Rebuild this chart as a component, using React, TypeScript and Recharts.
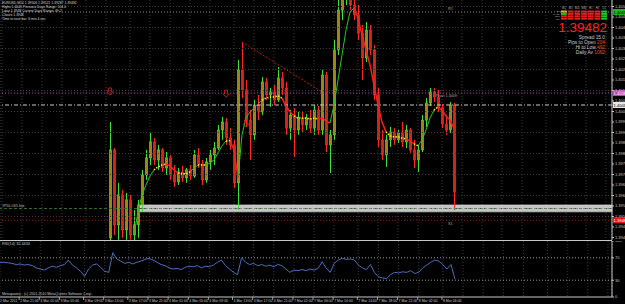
import React from 'react';
import {
  ComposedChart, Bar, Line, XAxis, YAxis, CartesianGrid,
  ReferenceLine, ReferenceArea, ReferenceDot,
} from 'recharts';

// ---------------- data ----------------
const SLOT_COUNT = 153;
const CANDLE_START = 27;
const MA_START = 33;

const opens = [
  1.39398, 1.39817, 1.39460, 1.39603, 1.39436, 1.39579, 1.39412, 1.39460, 1.39555, 1.39698,
  1.39779, 1.39855, 1.39769, 1.39817, 1.39731, 1.39779, 1.39698, 1.39665, 1.39712, 1.39684,
  1.39722, 1.39693, 1.39793, 1.39750, 1.39674, 1.39760, 1.39793, 1.39826, 1.39912, 1.39950,
  1.39874, 1.39841, 1.39660, 1.40198, 1.40103, 1.39959, 1.39889, 1.40031, 1.39998, 1.40141,
  1.40079, 1.40093, 1.40055, 1.40160, 1.40112, 1.39921, 1.39983, 1.39912, 1.39969, 1.39936,
  1.39969, 1.39921, 1.40007, 1.39912, 1.40174, 1.39841, 1.39889, 1.40293, 1.40483, 1.40555,
  1.40602, 1.40507, 1.40460, 1.40374, 1.40255, 1.40388, 1.40293, 1.40079, 1.39865, 1.39793,
  1.39865, 1.39903, 1.39865, 1.39898, 1.39855, 1.39912, 1.39817, 1.39769, 1.39817, 1.39959,
  1.40041, 1.40093, 1.40069, 1.40017, 1.39941, 1.39912, 1.40031,
];
const highs = [
  1.39950, 1.39826, 1.39660, 1.39627, 1.39612, 1.39603, 1.39531, 1.39579, 1.39722, 1.39817,
  1.39898, 1.39874, 1.39841, 1.39826, 1.39807, 1.39793, 1.39745, 1.39731, 1.39741, 1.39731,
  1.39745, 1.39817, 1.39826, 1.39769, 1.39779, 1.39817, 1.39855, 1.39936, 1.39974, 1.39969,
  1.39921, 1.39865, 1.40245, 1.40331, 1.40150, 1.40007, 1.40055, 1.40079, 1.40164, 1.40160,
  1.40112, 1.40126, 1.40212, 1.40188, 1.40141, 1.40007, 1.40017, 1.39998, 1.39998, 1.39988,
  1.40007, 1.40031, 1.40026, 1.40198, 1.40188, 1.39912, 1.40341, 1.40602, 1.40626, 1.40674,
  1.40650, 1.40588, 1.40507, 1.40412, 1.40426, 1.40412, 1.40317, 1.40112, 1.39912, 1.39889,
  1.39926, 1.39921, 1.39912, 1.39950, 1.39936, 1.39921, 1.39865, 1.39841, 1.39983, 1.40064,
  1.40112, 1.40112, 1.40103, 1.40036, 1.39983, 1.40045, 1.40041,
];
const lows = [
  1.39379, 1.39412, 1.39389, 1.39398, 1.39389, 1.39389, 1.39379, 1.39398, 1.39522, 1.39674,
  1.39745, 1.39745, 1.39722, 1.39712, 1.39698, 1.39674, 1.39641, 1.39650, 1.39665, 1.39660,
  1.39674, 1.39684, 1.39731, 1.39650, 1.39660, 1.39722, 1.39745, 1.39817, 1.39865, 1.39841,
  1.39817, 1.39636, 1.39531, 1.40064, 1.39926, 1.39769, 1.39865, 1.39959, 1.39983, 1.40055,
  1.40022, 1.40031, 1.40045, 1.40079, 1.39889, 1.39865, 1.39784, 1.39889, 1.39903, 1.39912,
  1.39898, 1.39889, 1.39889, 1.39889, 1.39807, 1.39707, 1.39865, 1.40269, 1.40436, 1.40507,
  1.40483, 1.40436, 1.40341, 1.40150, 1.40236, 1.40269, 1.40055, 1.39831, 1.39769, 1.39736,
  1.39831, 1.39841, 1.39850, 1.39831, 1.39826, 1.39803, 1.39731, 1.39712, 1.39807, 1.39926,
  1.40026, 1.40045, 1.39998, 1.39921, 1.39889, 1.39898, 1.39531,
];
const closes = [
  1.39817, 1.39460, 1.39603, 1.39436, 1.39579, 1.39412, 1.39460, 1.39555, 1.39698, 1.39779,
  1.39855, 1.39769, 1.39817, 1.39731, 1.39779, 1.39698, 1.39665, 1.39712, 1.39684, 1.39722,
  1.39693, 1.39793, 1.39750, 1.39674, 1.39760, 1.39793, 1.39826, 1.39912, 1.39950, 1.39874,
  1.39841, 1.39660, 1.40198, 1.40103, 1.39959, 1.39889, 1.40031, 1.39998, 1.40141, 1.40079,
  1.40093, 1.40055, 1.40160, 1.40112, 1.39921, 1.39983, 1.39912, 1.39969, 1.39936, 1.39969,
  1.39921, 1.40007, 1.39912, 1.40174, 1.39841, 1.39889, 1.40293, 1.40483, 1.40555, 1.40602,
  1.40507, 1.40460, 1.40374, 1.40255, 1.40388, 1.40293, 1.40079, 1.39865, 1.39793, 1.39865,
  1.39903, 1.39865, 1.39898, 1.39855, 1.39912, 1.39817, 1.39769, 1.39817, 1.39959, 1.40041,
  1.40093, 1.40069, 1.40017, 1.39941, 1.39912, 1.40031, 1.39617,
];

const maValues = [
  1.39412, 1.39522, 1.39603, 1.39650, 1.39693, 1.39722, 1.39736, 1.39745, 1.39750, 1.39741,
  1.39722, 1.39707, 1.39703, 1.39703, 1.39712, 1.39731, 1.39745, 1.39745, 1.39745, 1.39755,
  1.39769, 1.39803, 1.39836, 1.39860, 1.39860, 1.39817, 1.39684, 1.39889, 1.39969, 1.39998,
  1.40017, 1.40036, 1.40055, 1.40064, 1.40069, 1.40069, 1.40074, 1.40064, 1.40026, 1.39998,
  1.39979, 1.39969, 1.39969, 1.39969, 1.39964, 1.39969, 1.39964, 1.39969, 1.39955, 1.39945,
  1.40031, 1.40150, 1.40269, 1.40388, 1.40474, 1.40493, 1.40445, 1.40364, 1.40293, 1.40222,
  1.40126, 1.40031, 1.39950, 1.39903, 1.39884, 1.39879, 1.39879, 1.39874, 1.39869, 1.39860,
  1.39846, 1.39836, 1.39865, 1.39912, 1.39969, 1.40007, 1.40022, 1.40007, 1.39979, 1.39959,
  1.39921,
];
const maColors =
  'gggggg' + 'yyy' + 'rrr' + 'yyy' + 'gg' + 'yy' + 'ggggg' + 'y' + 'rr' + 'gggggg' +
  'yyyyy' + 'rrr' + 'yyyyyy' + 'rrr' + 'gggggg' + 'rrrrrrrr' + 'yyyyy' + 'rr' + 'y' +
  'gggg' + 'y' + 'rrrr';

const rsiValues = [
  62, 62, 61, 60, 58, 59, 57, 58, 56, 52,
  50, 48, 52, 55, 53, 56, 58, 66, 57, 52,
  46, 37, 50, 57, 59, 53, 46, 44, 79, 68,
  64, 60, 62, 59, 62, 64, 67, 69, 66, 62,
  58, 56, 52, 50, 51, 49, 53, 55, 54, 56,
  52, 55, 54, 57, 62, 66, 56, 50, 44, 40,
  70, 62, 58, 60, 56, 58, 55, 57, 54, 58,
  56, 50, 44, 48, 47, 49, 47, 50, 48, 51,
  63, 52, 44, 60, 66, 69, 67, 68, 66, 57,
  52, 49, 58, 44, 36, 34, 33, 40, 44, 43,
  45, 44, 47, 42, 44, 52, 57, 62, 66, 64,
  58, 50, 58, 32,
];

const timeLabels = [
  '2 Mar 2011', '2 Mar 21:00', '3 Mar 01:00', '3 Mar 05:00', '3 Mar 09:00', '3 Mar 13:00',
  '3 Mar 17:00', '3 Mar 21:00', '4 Mar 01:00', '4 Mar 05:00', '4 Mar 09:00', '4 Mar 13:00',
  '4 Mar 17:00', '4 Mar 21:00', '7 Mar 02:00', '7 Mar 06:00', '7 Mar 10:00', '7 Mar 14:00',
  '7 Mar 18:00', '7 Mar 22:00', '8 Mar 02:00', '8 Mar 06:00',
];
const timeLabelSlots = [0, 5, 10, 15, 21, 26, 32, 37, 42, 47, 52, 58, 63, 68, 73, 78, 83, 89, 94, 99, 104, 110];
const futureGridSlots = [115, 120, 125, 130, 136, 141, 146, 151];

const priceTicks = [
  1.3940, 1.3945, 1.3950, 1.3955, 1.3960, 1.3965, 1.3970, 1.3975, 1.3980, 1.3985, 1.3990, 1.3995,
  1.4000, 1.4005, 1.4010, 1.4015, 1.4020, 1.4025, 1.4030, 1.4035, 1.4040, 1.4045, 1.4050,
];
const gridPrices = [1.3950, 1.3960, 1.3970, 1.3980, 1.3990, 1.4000, 1.4010, 1.4020, 1.4030, 1.4040, 1.4050];
const PRICE_MIN = 1.39388;
const PRICE_MAX = 1.40531;

const levelR1 = 1.40474;
const levelPivot = 1.40088;
const levelDash = 1.40031;
const levelBid = 1.39482;
const bandLow = 1.39522;
const bandHigh = 1.39555;
const bandMid = 1.39538;
const bandStartSlot = 35;
const trendLine = [{ slot: 60, price: 1.40331 }, { slot: 80, price: 1.40093 }];
const arrowMarks = [
  { slot: 27, price: 1.40093 },
  { slot: 56, price: 1.40083 },
  { slot: 61, price: 1.39941 },
];

const infoLines = [
  'EURUSD,M10  1.39506 1.39521 1.39287 1.39482',
  'Highs 1.4045    Previous Days Range: 104.0',
  'Lows 1.3938    Current Days Range: 49.2',
  'Closes 1.3948',
  'Time to next bar: 6 min 4 sec',
];
const signalHeaders = ['M1', 'M5', 'M15', 'M30', 'H1', 'H4', 'D1'];
const signalRowNames = ['TR', 'MACD', 'STR', 'CCI'];
const signalRows = [
  'yrrrrrg',
  'grrrrrg',
  'rrrrrrg',
  'rrrrrrg',
];
const lastPrice = '1.39482';
const statLines = [
  { label: 'Spread ', value: '15.0', valueGray: true },
  { label: 'Pips to Open ', value: '204', valueGray: false },
  { label: 'Hi to Low ', value: '492', valueGray: false },
  { label: 'Daily Av ', value: '1062', valueGray: false },
];
const rsiCaption = 'RSI(14) 32.4434';
const copyright = 'Metaquotes - (c) 2001-2010 MetaQuotes Software Corp.';

// ---------------- table ----------------
const table = Array.from({ length: SLOT_COUNT }, (_, i) => {
  const k = i - CANDLE_START;
  const hasC = k >= 0 && k < closes.length;
  const m = i - MA_START;
  const hasM = m >= 0 && m < maValues.length;
  const col = hasM ? maColors[m] : '';
  const nextCol = m + 1 >= 0 && m + 1 < maValues.length ? maColors[m + 1] : '';
  const pick = (c: string) => (hasM && (col === c || nextCol === c) ? maValues[m] : null);
  return {
    i,
    o: hasC ? opens[k] : null,
    h: hasC ? highs[k] : null,
    l: hasC ? lows[k] : null,
    c: hasC ? closes[k] : null,
    range: hasC ? [lows[k], highs[k]] : null,
    maG: pick('g'),
    maY: pick('y'),
    maR: pick('r'),
    rsi: i < rsiValues.length ? rsiValues[i] : null,
  };
});

const gridSlots = [...timeLabelSlots, ...futureGridSlots];
const FONT = '"Liberation Sans", "DejaVu Sans", Arial, sans-serif';

// ---------------- shapes ----------------
function Candle(props: any) {
  const { x, y, width, height, payload } = props;
  if (!payload || payload.o == null) return null;
  const { o, h, l, c } = payload;
  const top = Math.min(y, y + height);
  const bot = Math.max(y, y + height);
  const toY = (v: number) => top + ((h - v) / (h - l)) * (bot - top);
  const bull = c >= o;
  const wick = bull ? '#3ae23a' : '#ff2626';
  const body = bull ? '#9c8612' : '#cc2a16';
  const yo = toY(o);
  const yc = toY(c);
  const bTop = Math.min(yo, yc);
  const bH = Math.max(1, Math.abs(yo - yc));
  const cx = x + width / 2;
  return (
    <g>
      <line x1={cx} x2={cx} y1={top} y2={bot} stroke={wick} strokeWidth={1} />
      <rect x={cx - 1.2} y={bTop} width={2.4} height={bH} fill={body} stroke={wick} strokeWidth={0.6} />
    </g>
  );
}

function ArrowDown(props: any) {
  const { cx, cy } = props;
  if (cx == null || cy == null) return null;
  const d = `M${cx - 1.5},${cy - 4} L${cx + 1.5},${cy - 4} L${cx + 1.5},${cy} L${cx + 3},${cy} L${cx},${cy + 3} L${cx - 3},${cy} L${cx - 1.5},${cy} Z`;
  return <path d={d} fill="none" stroke="#d42020" strokeWidth={0.8} />;
}

const textMark = (text: string, dy: number) => (props: any) => {
  const { cx, cy } = props;
  if (cx == null || cy == null) return null;
  return (
    <text x={cx - 2} y={cy + dy} fontSize={3.8} fill="#a8a8a8" fontFamily={FONT}>{text}</text>
  );
};

const axisTag = (bg: string, fg: string, text: string) => (p: any) => {
  const vb = p.viewBox || {};
  const x = (vb.x ?? 0) + (vb.width ?? 0);
  const y = vb.y ?? 0;
  return (
    <g>
      <rect x={x + 1} y={y - 3} width={14} height={6} fill={bg} />
      <text x={x + 1.6} y={y + 1.6} fontSize={4} fill={fg} fontFamily={FONT}>{text}</text>
    </g>
  );
};

function TimeTick(props: any) {
  const { x, y, payload } = props;
  const idx = timeLabelSlots.indexOf(payload?.value);
  if (idx < 0) return <g />;
  return (
    <g>
      <line x1={x - 1} x2={x - 1} y1={y} y2={y + 3} stroke="#c8c8c8" strokeWidth={0.8} />
      <text x={x} y={y + 5.2} fontSize={3.5} fill="#c8c8c8" fontFamily={FONT}>{timeLabels[idx]}</text>
    </g>
  );
}

// ---------------- component ----------------
export default function App() {
  const signalColor = (ch: string) => (ch === 'g' ? '#1fc81f' : ch === 'y' ? '#e6b81c' : '#e01e1e');
  return (
    <div style={{ position: 'absolute', left: 0, top: 0, width: 625, height: 304, background: '#000', overflow: 'hidden' }}>
      <ComposedChart
        width={625}
        height={240}
        data={table}
        margin={{ top: 0, right: 0, bottom: 0, left: 0 }}
        barCategoryGap={0}
        barGap={0}
      >
        <CartesianGrid horizontal={false} stroke="#3c3c3c" strokeDasharray="1 2" />
        <XAxis dataKey="i" type="category" hide ticks={gridSlots} interval={0} />
        <YAxis
          orientation="right"
          width={13}
          domain={[PRICE_MIN, PRICE_MAX]}
          allowDataOverflow
          ticks={priceTicks}
          interval={0}
          tickFormatter={(v: number) => v.toFixed(5)}
          tick={{ fontSize: 4, fill: '#c8c8c8', fontFamily: FONT }}
          tickSize={2}
          tickMargin={1}
          tickLine={{ stroke: '#c8c8c8' }}
          axisLine={{ stroke: '#c8c8c8' }}
        />
        {gridPrices.map((p) => (
          <ReferenceLine key={p} y={p} stroke="#3c3c3c" strokeDasharray="1 2" />
        ))}
        <ReferenceLine y={levelR1} stroke="#8a8a8a" strokeDasharray="1 2" label={axisTag('#1fb81f', '#000', levelR1.toFixed(5))} />
        <ReferenceLine y={levelPivot} stroke="#b43cb4" strokeDasharray="1 2" label={axisTag('#c040c0', '#fff', levelPivot.toFixed(5))} />
        <ReferenceLine y={levelDash} stroke="#c8c8c8" strokeDasharray="4 2 1 2" label={axisTag('#e8e8e8', '#000', levelDash.toFixed(5))} />
        <ReferenceLine
          y={bandMid}
          stroke="#2f6a2f"
          strokeDasharray="3 2"
          label={{ value: '#PDL#4/5 line', position: 'insideLeft', offset: 2, dy: -3, fontSize: 3.6, fill: '#c0c0c0', fontFamily: FONT }}
        />
        <ReferenceLine y={levelBid} stroke="#a01414" strokeDasharray="1 2" label={axisTag('#e01414', '#fff', levelBid.toFixed(5))} />
        <ReferenceArea x1={bandStartSlot} x2={SLOT_COUNT - 1} y1={bandLow} y2={bandHigh} fill="#c4c4c4" fillOpacity={1} stroke="#dcdcdc" strokeWidth={0.6} />
        <ReferenceLine segment={[{ x: bandStartSlot, y: bandMid }, { x: SLOT_COUNT - 1, y: bandMid }]} stroke="#8a8a8a" strokeDasharray="2 1.5" />
        <Bar dataKey="range" barSize={3} shape={Candle} isAnimationActive={false} />
        <Line dataKey="maG" stroke="#22c822" strokeWidth={1} dot={false} isAnimationActive={false} />
        <Line dataKey="maY" stroke="#ffee22" strokeWidth={1.6} strokeDasharray="1.4 1.4" dot={false} isAnimationActive={false} />
        <Line dataKey="maR" stroke="#ff1c1c" strokeWidth={1.5} dot={false} isAnimationActive={false} />
        <ReferenceLine
          segment={trendLine.map((t) => ({ x: t.slot, y: t.price }))}
          stroke="#b01c1c"
          strokeDasharray="2 1.5"
        />
        {arrowMarks.map((a) => (
          <ReferenceDot key={a.slot} x={a.slot} y={a.price} r={3} shape={ArrowDown} />
        ))}
        <ReferenceDot x={112} y={levelR1} r={1} shape={textMark('R1', -1.5)} />
        <ReferenceDot x={109} y={levelPivot} r={1} shape={textMark('Pivot 1.4009', 3.5)} />
        <ReferenceDot x={112} y={levelBid} r={1} shape={textMark('S1', 4.5)} />
      </ComposedChart>
      <div style={{ width: 612, height: 1, background: '#c8c8c8' }} />
      <ComposedChart
        width={625}
        height={63}
        data={table}
        margin={{ top: 0, right: 0, bottom: 0, left: 0 }}
      >
        <CartesianGrid horizontal={false} stroke="#3c3c3c" strokeDasharray="1 2" />
        <XAxis
          dataKey="i"
          type="category"
          ticks={gridSlots}
          interval={0}
          height={7}
          tickSize={0}
          tickMargin={0}
          tickLine={false}
          tick={<TimeTick />}
          axisLine={{ stroke: '#c8c8c8' }}
        />
        <YAxis
          orientation="right"
          width={13}
          domain={[0, 100]}
          ticks={[0, 30, 70, 100]}
          interval={0}
          tick={{ fontSize: 4, fill: '#c8c8c8', fontFamily: FONT }}
          tickSize={2}
          tickMargin={1}
          tickLine={{ stroke: '#c8c8c8' }}
          axisLine={{ stroke: '#c8c8c8' }}
        />
        <ReferenceLine y={70} stroke="#9a9a9a" strokeDasharray="1 2" />
        <ReferenceLine y={30} stroke="#9a9a9a" strokeDasharray="1 2" />
        <Line dataKey="rsi" stroke="#4a6fbf" strokeWidth={1} dot={false} isAnimationActive={false} />
      </ComposedChart>
      <svg width={625} height={304} style={{ position: 'absolute', left: 0, top: 0, pointerEvents: 'none' }}>
        {infoLines.map((t, j) => (
          <text key={j} x={2} y={4 + j * 3.9} fontSize={3.4} fill="#d8d8d8" fontFamily={FONT}>{t}</text>
        ))}
        {signalHeaders.map((hd, j) => (
          <text key={hd} x={563.9 + j * 6.7} y={9.2} fontSize={2.6} fill="#b8b8b8" textAnchor="middle" fontFamily={FONT}>{hd}</text>
        ))}
        {signalRowNames.map((n, r) => (
          <text key={n} x={559.5} y={12.4 + r * 2.4} fontSize={2.2} fill="#b8b8b8" textAnchor="end" fontFamily={FONT}>{n}</text>
        ))}
        {signalRows.map((row, r) =>
          row.split('').map((ch, j) => (
            <rect key={`${r}-${j}`} x={561 + j * 6.7} y={10.5 + r * 2.4} width={5.8} height={2} fill={signalColor(ch)} />
          )),
        )}
        <text x={607} y={32} fontSize={13.5} fill="#ff2020" textAnchor="end" fontFamily={FONT}>{lastPrice}</text>
        {statLines.map((s, j) => (
          <text key={s.label} x={605} y={39.4 + j * 5} fontSize={4.8} textAnchor="end" fontFamily={FONT} fill="#c8c8c8">
            {s.label}
            <tspan fill={s.valueGray ? '#c8c8c8' : '#e0562a'}>{s.value}</tspan>
          </text>
        ))}
        <text x={2} y={245} fontSize={3.8} fill="#c8c8c8" fontFamily={FONT}>{rsiCaption}</text>
        <text x={2} y={295} fontSize={3.6} fill="#c8c8c8" fontFamily={FONT}>{copyright}</text>
      </svg>
    </div>
  );
}
